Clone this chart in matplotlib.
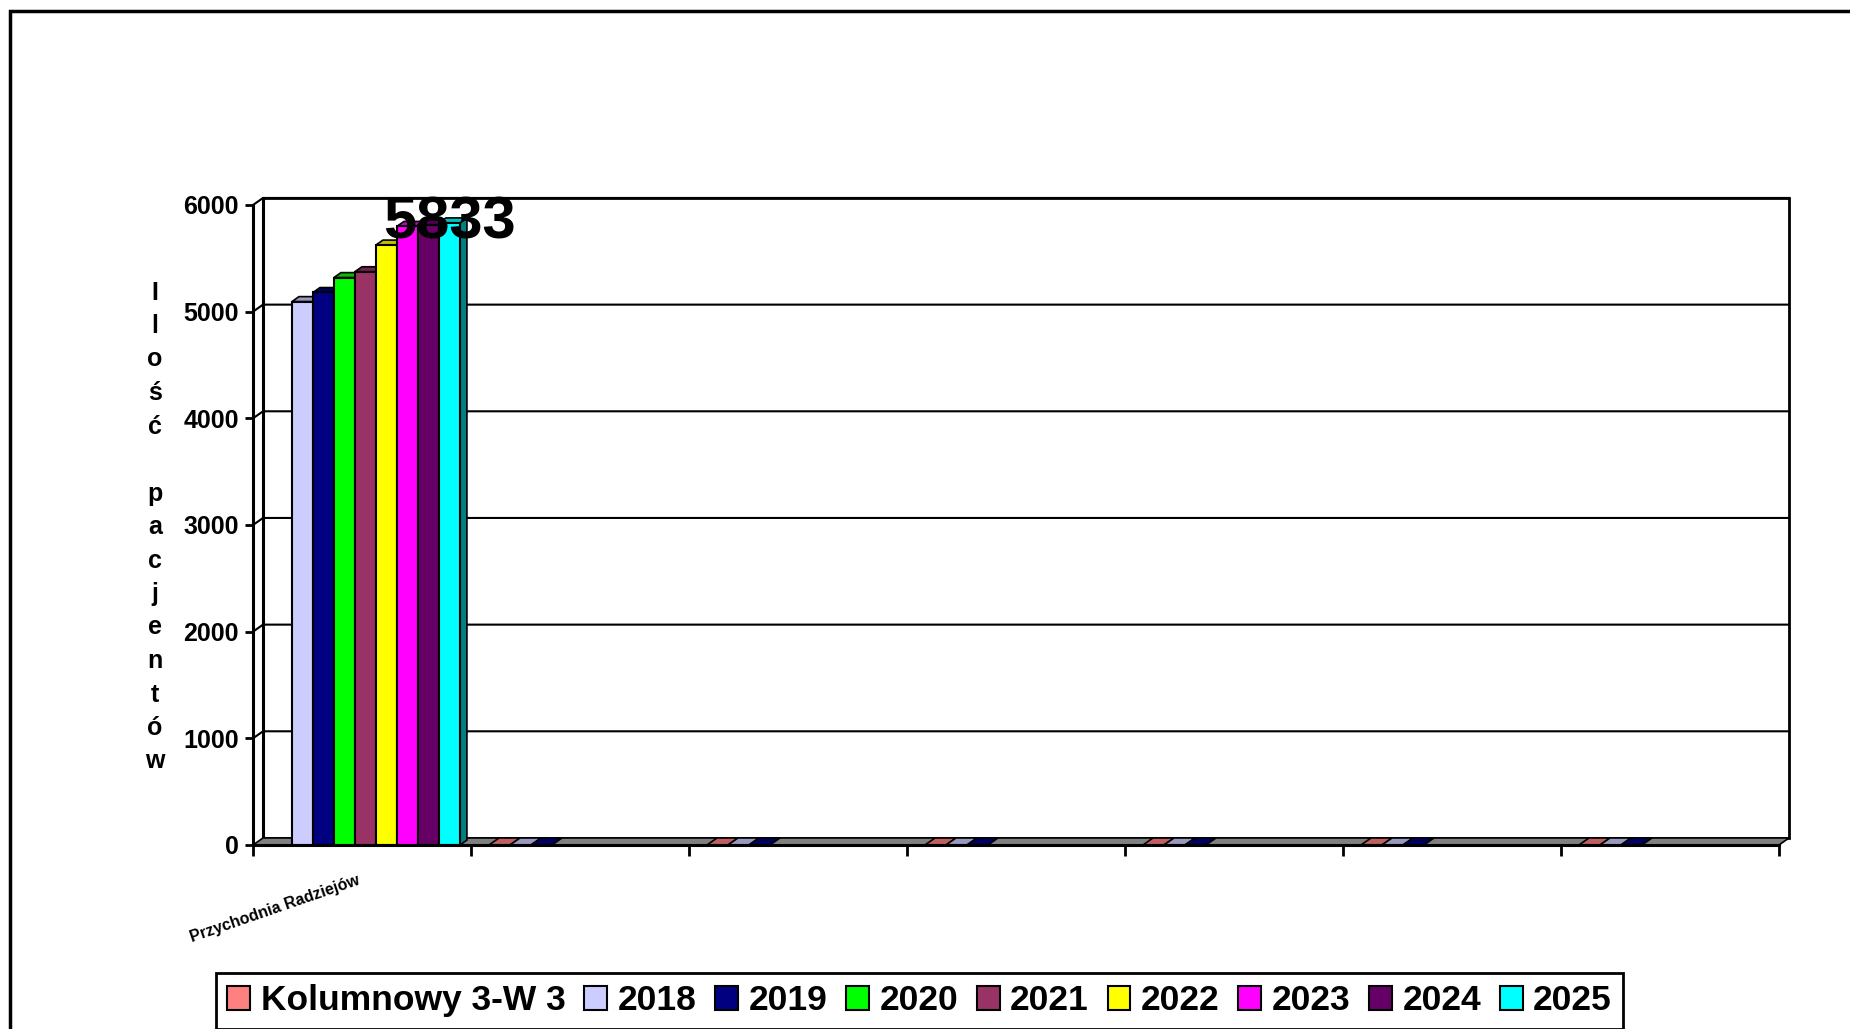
import matplotlib
matplotlib.use('Agg')
import matplotlib.pyplot as plt
import matplotlib.patches as mpatches
from matplotlib.patches import Polygon, Rectangle
from matplotlib.colors import to_rgb
import numpy as np

nan = np.nan

# Data
categories = ['Przychodnia Radziejów', '', '', '', '', '', '']
series_names = ['Kolumnowy 3-W 3', '2018', '2019', '2020', '2021', '2022', '2023', '2024', '2025']
kolumnowy = [nan, 0, 0, 0, 0, 0, 0]
v2018 = [5095, 0, 0, 0, 0, 0, 0]
v2019 = [5180, 0, 0, 0, 0, 0, 0]
v2020 = [5320, nan, nan, nan, nan, nan, nan]
v2021 = [5375, nan, nan, nan, nan, nan, nan]
v2022 = [5625, nan, nan, nan, nan, nan, nan]
v2023 = [5800, nan, nan, nan, nan, nan, nan]
v2024 = [5815, nan, nan, nan, nan, nan, nan]
v2025 = [5833, nan, nan, nan, nan, nan, nan]
series_values = [kolumnowy, v2018, v2019, v2020, v2021, v2022, v2023, v2024, v2025]
series_colors = ['#FF8080', '#CCCCFF', '#000080', '#00FF00', '#993366',
                 '#FFFF00', '#FF00FF', '#660066', '#00FFFF']
y_ticks = [0, 1000, 2000, 3000, 4000, 5000, 6000]
y_label = 'Ilość pacjentów'

plt.rcParams['font.family'] = ['Liberation Sans', 'DejaVu Sans']
plt.rcParams['font.weight'] = 'bold'

fig = plt.figure(figsize=(18.5, 10.29), dpi=100)
ax = fig.add_axes([253 / 1850, 1 - 845 / 1029, 1526 / 1850, 640 / 1029])
n_cat = len(categories)
ax.set_xlim(0, n_cat)
ax.set_ylim(0, 6000)

# fake 3D depth: walls ~10 px right / 7 px up, bars a bit shallower
dx = 0.046
dy = 66
bdx = 0.032
bdy = 46
bar_w = 0.0963
bar_off = 0.0826


def shade(c, f):
    r, g, b = to_rgb(c)
    return (r * f, g * f, b * f)


# back wall + floor
ax.add_patch(Rectangle((dx, dy), n_cat, 6000, fc='white', ec='black', lw=2,
                       clip_on=False, zorder=0.5))
ax.add_patch(Polygon([(0, 0), (n_cat, 0), (n_cat + dx, dy), (dx, dy)], closed=True,
                     fc='#808080', ec='black', lw=1.2, clip_on=False, zorder=1))
for v in y_ticks[1:]:
    ax.plot([0, dx, n_cat + dx], [v, v + dy, v + dy], color='black', lw=1.5,
            clip_on=False, zorder=0.8)
ax.plot([dx, dx], [dy, 6000 + dy], color='black', lw=2.2, clip_on=False, zorder=0.9)

# bars
x_base = np.arange(n_cat) + bar_off
for k, (vals, col) in enumerate(zip(series_values, series_colors)):
    xs = x_base + k * bar_w
    vals = np.array(vals, dtype=float)
    z = 3 + k
    ax.bar(xs, vals, width=bar_w, align='edge', color=col, edgecolor='black',
           linewidth=1.5, zorder=z)
    for x, v in zip(xs, vals):
        if np.isnan(v):
            continue
        if v > 0:
            top = [(x, v), (x + bar_w, v), (x + bar_w + bdx, v + bdy), (x + bdx, v + bdy)]
            side = [(x + bar_w, 0), (x + bar_w + bdx, bdy), (x + bar_w + bdx, v + bdy), (x + bar_w, v)]
            ax.add_patch(Polygon(side, fc=shade(col, 0.5), ec='black', lw=1.2,
                                 zorder=z - 0.5, clip_on=False))
        else:
            top = [(x, v), (x + bar_w, v), (x + bar_w + dx, v + dy), (x + dx, v + dy)]
        ax.add_patch(Polygon(top, fc=shade(col, 0.75), ec='black', lw=1.2,
                             zorder=z - 0.5, clip_on=False))

# data label on 2025
x_last = x_base[0] + 8 * bar_w + bar_w / 2
ax.text(x_last, v2025[0], f'{v2025[0]:.0f}', ha='center', va='center',
        fontsize=43, fontweight='bold', zorder=30)

# axes
for s in ['top', 'right']:
    ax.spines[s].set_visible(False)
ax.spines['left'].set_linewidth(2.2)
ax.spines['bottom'].set_linewidth(2.2)
ax.spines['left'].set_zorder(20)
ax.spines['bottom'].set_zorder(20)
ax.set_yticks(y_ticks)
ax.tick_params(axis='y', direction='out', length=6, width=2, pad=4, labelsize=18)
ax.set_xticks(np.arange(n_cat + 1))
ax.set_xticklabels([])
ax.tick_params(axis='x', which='major', direction='out', length=8, width=2)
ax.set_xticks(np.arange(n_cat) + 0.5, minor=True)
ax.set_xticklabels(categories, minor=True, rotation=19, ha='right', fontsize=11.5)
ax.tick_params(axis='x', which='minor', length=0, pad=20)

fig.text(155 / 1850, 1 - 527 / 1029, '\n'.join(y_label), ha='center', va='center',
         fontsize=18, linespacing=1.5, multialignment='center')

handles = [mpatches.Patch(fc=c, ec='black', lw=1.5) for c in series_colors]
leg = fig.legend(handles, series_names, loc='upper left',
                 bbox_to_anchor=(216 / 1850, 1 - 973 / 1029), ncol=9, fontsize=25.5,
                 frameon=True, fancybox=False, edgecolor='black', framealpha=1,
                 borderaxespad=0, borderpad=0.32, handlelength=0.64, handleheight=0.64,
                 handletextpad=0.3, columnspacing=0.53)
leg.get_frame().set_linewidth(2)

# outer chart border (open at right/bottom)
fig.add_artist(Rectangle((10 / 1850, -0.1), 1.2, 1 - 11 / 1029 + 0.1,
                         transform=fig.transFigure, fill=False, ec='black', lw=2.5))

fig.savefig('out.png', dpi=100)
